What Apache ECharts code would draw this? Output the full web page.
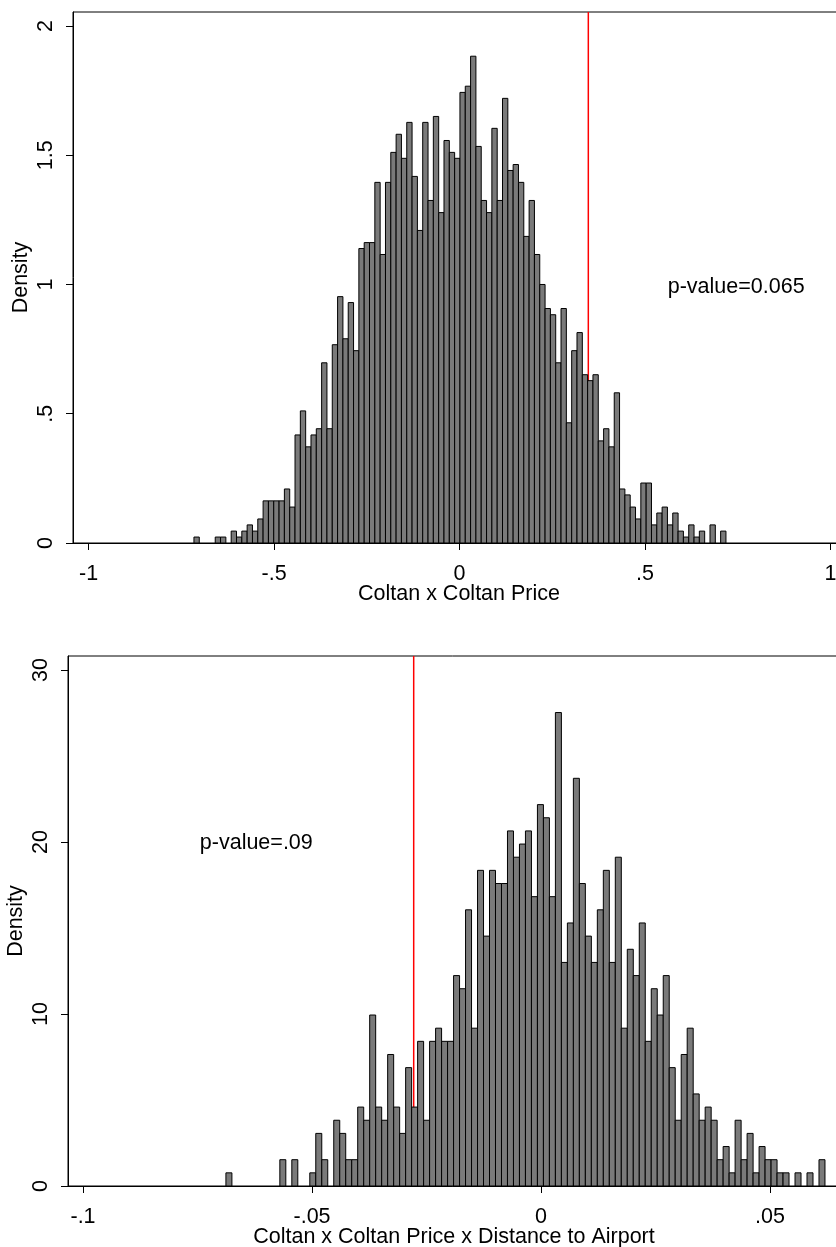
<!DOCTYPE html>
<html>
<head>
<meta charset="utf-8">
<script src="https://cdn.jsdelivr.net/npm/echarts@6/dist/echarts.min.js"></script>
<style>
html,body{margin:0;padding:0;background:#fff;}
#chart{width:836px;height:1247px;}
</style>
</head>
<body>
<div id="chart"></div>
<script>
// ---------- DATA ----------
// Top histogram: Coltan x Coltan Price (100 bins)
const topBinStart = -0.716;
const topBinWidth = 0.01434;
const topDensity = [
  0.023,0,0,0,0.023,0.023,0,0.046,0.023,0.046,
  0.070,0.046,0.093,0.163,0.163,0.163,0.163,0.209,0.139,0.418,
  0.511,0.372,0.418,0.442,0.697,0.442,0.767,0.953,0.790,0.930,
  0.744,1.139,1.162,1.162,1.395,1.116,1.395,1.511,1.581,1.488,
  1.627,1.418,1.209,1.627,1.325,1.650,1.278,1.557,1.511,1.488,
  1.743,1.767,1.883,1.534,1.325,1.278,1.604,1.325,1.720,1.441,
  1.464,1.395,1.186,1.325,1.116,1.000,0.907,0.883,0.697,0.907,
  0.465,0.744,0.814,0.651,0.628,0.651,0.395,0.442,0.372,0.581,
  0.209,0.186,0.139,0.093,0.232,0.232,0.070,0.116,0.139,0.070,
  0.116,0.046,0.023,0.070,0.023,0.046,0,0.070,0,0.046
];
const topRedLine = 0.347;
const topPText = 'p-value=0.065';
const topPPos = [0.561, 0.99];
const topXTicks = [-1, -0.5, 0, 0.5, 1];
const topXTickLabels = ['-1', '-.5', '0', '.5', '1'];
const topYTicks = [0, 0.5, 1, 1.5, 2];
const topYTickLabels = ['0', '.5', '1', '1.5', '2'];
const topXTitle = 'Coltan x Coltan Price';

// Bottom histogram: Coltan x Coltan Price x Distance to Airport (100 bins)
const botBinStart = -0.0688;
const botBinWidth = 0.001308;
const botDensity = [
  0.765,0,0,0,0,0,0,0,0,1.529,
  0,1.529,0,0,0.765,3.058,1.529,0,3.823,3.058,
  1.529,1.529,4.587,3.823,9.939,4.587,3.823,7.645,4.587,3.058,
  6.881,4.587,8.410,3.823,8.410,9.174,8.410,8.410,12.232,11.468,
  16.055,9.174,18.349,14.526,18.349,17.584,17.584,20.642,19.113,19.878,
  20.642,16.820,22.171,21.407,16.820,27.523,12.997,15.291,23.700,17.584,
  14.526,12.997,16.055,18.349,12.997,19.113,9.174,13.761,12.232,15.291,
  8.410,11.468,9.939,12.232,6.881,3.823,7.645,9.174,5.352,3.823,
  4.587,3.823,1.529,2.294,0.765,3.823,1.529,3.058,0.765,2.294,
  1.529,1.529,0.765,0.765,0,0.765,0,0.765,0,1.529
];
const botRedLine = -0.0278;
const botPText = 'p-value=.09';
const botPPos = [-0.0745, 19.94];
const botXTicks = [-0.1, -0.05, 0, 0.05];
const botXTickLabels = ['-.1', '-.05', '0', '.05'];
const botYTicks = [0, 10, 20, 30];
const botYTickLabels = ['0', '10', '20', '30'];
const botXTitle = 'Coltan x Coltan Price x Distance to Airport';

const yTitle = 'Density';

// ---------- BUILD ----------
const FONT = "'Liberation Sans', Arial, sans-serif";
const FS = 21.5;

function bins(start, width, dens) {
  return dens.map((d, i) => [start + i * width, start + (i + 1) * width, d]);
}
function labeler(ticks, labels) {
  return v => {
    for (let i = 0; i < ticks.length; i++) if (Math.abs(ticks[i] - v) < 1e-9) return labels[i];
    return '';
  };
}
function renderBar(params, api) {
  const y = api.value(2);
  if (!y) return null;
  const p0 = api.coord([api.value(0), y]);
  const p1 = api.coord([api.value(1), 0]);
  return {
    type: 'rect',
    shape: { x: p0[0], y: p0[1], width: p1[0] - p0[0], height: p1[1] - p0[1] },
    style: { fill: '#7a7a7a', stroke: '#000', lineWidth: 1 }
  };
}
function xAxisOpt(gi, min, max, ticks, labels, title) {
  return {
    type: 'value', gridIndex: gi, min: min, max: max,
    name: title, nameLocation: 'middle', nameGap: 40, nameMoveOverlap: false,
    nameTextStyle: { fontFamily: FONT, fontSize: FS, color: '#000' },
    axisLine: { show: true, onZero: false, lineStyle: { color: '#000', width: 1 } },
    axisTick: { show: true, inside: false, length: 7, customValues: ticks, lineStyle: { color: '#000', width: 1 } },
    axisLabel: { show: true, customValues: ticks, formatter: labeler(ticks, labels), margin: 20,
      fontFamily: FONT, fontSize: FS, color: '#000' },
    splitLine: { show: false }
  };
}
function yAxisOpt(gi, min, max, ticks, labels) {
  return {
    type: 'value', gridIndex: gi, min: min, max: max,
    name: yTitle, nameLocation: 'middle', nameGap: 41, nameMoveOverlap: false,
    nameTextStyle: { fontFamily: FONT, fontSize: FS, color: '#000' },
    axisLine: { show: true, onZero: false, lineStyle: { color: '#000', width: 1 } },
    axisTick: { show: true, inside: false, length: 7, customValues: ticks, lineStyle: { color: '#000', width: 1 } },
    axisLabel: { show: true, rotate: 90, customValues: ticks, formatter: labeler(ticks, labels), margin: 16,
      fontFamily: FONT, fontSize: FS, color: '#000' },
    splitLine: { show: false }
  };
}

const topYMax = 2.054;
const botYMax = 30.81;

const pLabel = (txt) => ({ show: true, position: 'right', distance: 0, formatter: txt,
  fontFamily: FONT, fontSize: FS, color: '#000', opacity: 1 });

const option = {
  backgroundColor: '#fff',
  animation: false,
  textStyle: { fontFamily: FONT },
  grid: [
    { left: 73, top: 12, width: 772, height: 531, show: true, borderColor: '#000', borderWidth: 1,
      backgroundColor: 'transparent', containLabel: false, outerBoundsMode: 'none' },
    { left: 68, top: 656, width: 772, height: 530, show: true, borderColor: '#000', borderWidth: 1,
      backgroundColor: 'transparent', containLabel: false, outerBoundsMode: 'none' }
  ],
  xAxis: [
    xAxisOpt(0, -1.042, -1.042 + 772 / 371, topXTicks, topXTickLabels, topXTitle),
    xAxisOpt(1, -0.10328, -0.10328 + 772 / 4580, botXTicks, botXTickLabels, botXTitle)
  ],
  yAxis: [
    yAxisOpt(0, 0, topYMax, topYTicks, topYTickLabels),
    yAxisOpt(1, 0, botYMax, botYTicks, botYTickLabels)
  ],
  series: [
    { type: 'line', xAxisIndex: 0, yAxisIndex: 0, z: 1, symbol: 'none', silent: true,
      data: [[topRedLine, 0], [topRedLine, topYMax]], lineStyle: { color: '#ff0000', width: 1.5 } },
    { type: 'custom', xAxisIndex: 0, yAxisIndex: 0, z: 3, silent: true,
      renderItem: renderBar, encode: { x: [0, 1], y: 2 }, data: bins(topBinStart, topBinWidth, topDensity) },
    { type: 'scatter', xAxisIndex: 0, yAxisIndex: 0, z: 4, symbolSize: 0, silent: true,
      itemStyle: { opacity: 1 }, data: [topPPos], label: pLabel(topPText) },

    { type: 'line', xAxisIndex: 1, yAxisIndex: 1, z: 1, symbol: 'none', silent: true,
      data: [[botRedLine, 0], [botRedLine, botYMax]], lineStyle: { color: '#ff0000', width: 1.5 } },
    { type: 'custom', xAxisIndex: 1, yAxisIndex: 1, z: 3, silent: true,
      renderItem: renderBar, encode: { x: [0, 1], y: 2 }, data: bins(botBinStart, botBinWidth, botDensity) },
    { type: 'scatter', xAxisIndex: 1, yAxisIndex: 1, z: 4, symbolSize: 0, silent: true,
      itemStyle: { opacity: 1 }, data: [botPPos], label: pLabel(botPText) }
  ]
};

const chart = echarts.init(document.getElementById('chart'), null, { renderer: 'canvas' });
chart.setOption(option);
</script>
</body>
</html>
